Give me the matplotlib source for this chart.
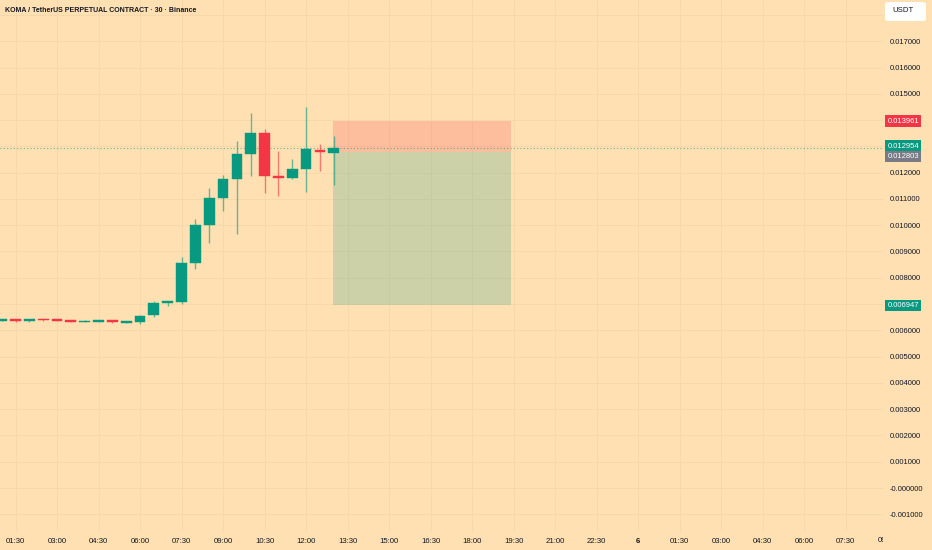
import numpy as np
import matplotlib.pyplot as plt
from matplotlib.transforms import Bbox, TransformedBbox, blended_transform_factory
from matplotlib.patches import FancyBboxPatch

# 30 min candles, 01:00 .. 13:00 (prices in units of 0.001 USDT)
opens = [6.37, 6.43, 6.37, 6.43, 6.39, 6.38, 6.31, 6.33, 6.39, 6.29, 6.32, 6.57, 7.03,
         7.08, 8.55, 10.00, 11.04, 11.75, 12.71, 13.52, 11.86, 11.78, 12.14, 12.87, 12.76]
highs = [6.44, 6.44, 6.44, 6.44, 6.40, 6.39, 6.40, 6.39, 6.40, 6.35, 6.58, 7.13, 7.13,
         8.80, 10.22, 11.42, 11.91, 13.20, 14.28, 13.66, 12.83, 12.51, 14.51, 13.10, 13.41]
lows = [6.35, 6.33, 6.31, 6.37, 6.35, 6.30, 6.30, 6.32, 6.29, 6.28, 6.25, 6.52, 6.94,
        7.00, 8.32, 9.33, 10.53, 9.67, 11.86, 11.21, 11.12, 11.76, 11.25, 12.05, 11.54]
closes = [6.42, 6.37, 6.43, 6.39, 6.36, 6.32, 6.37, 6.38, 6.30, 6.33, 6.56, 7.03, 7.10,
          8.57, 10.00, 11.04, 11.75, 12.72, 13.52, 11.86, 11.80, 12.14, 12.89, 12.77, 12.954]

time_labels = ["01:30", "03:00", "04:30", "06:00", "07:30", "09:00", "10:30", "12:00",
               "13:30", "15:00", "16:30", "18:00", "19:30", "21:00", "22:30", "6",
               "01:30", "03:00", "04:30", "06:00", "07:30", "09:00"]
price_ticks = [-0.001, 0.0, 0.001, 0.002, 0.003, 0.004, 0.005, 0.006, 0.008, 0.009,
               0.010, 0.011, 0.012, 0.015, 0.016, 0.017]
price_labels = ["-0.001000", "-0.000000", "0.001000", "0.002000", "0.003000", "0.004000",
                "0.005000", "0.006000", "0.008000", "0.009000", "0.010000", "0.011000",
                "0.012000", "0.015000", "0.016000", "0.017000"]

entry = 0.012803
stop = 0.013961
target = 0.006947
last_price = 0.012954

BG = "#FFE0B2"
GRID = "#F6D8AA"
UP = "#089981"
DOWN = "#F23645"
TXT = "#131722"

fig = plt.figure(figsize=(9.32, 5.5), dpi=100, facecolor=BG)
ax = fig.add_axes([0, 18 / 550, 883 / 932, 532 / 550])
ax.set_facecolor(BG)
for s in ax.spines.values():
    s.set_visible(False)

o = np.array(opens) / 1000
h = np.array(highs) / 1000
l = np.array(lows) / 1000
c = np.array(closes) / 1000
x = np.arange(len(o))
cols = [UP if cc >= oo else DOWN for oo, cc in zip(o, c)]

# grid
for v in np.arange(-0.001, 0.0185, 0.001):
    ax.axhline(v, color=GRID, lw=0.7, zorder=0)
tick_pos = np.arange(1, 1 + 3 * len(time_labels), 3)
for k in tick_pos:
    ax.axvline(k, color=GRID, lw=0.7, zorder=0)

# candles
ax.vlines(x, l, h, colors=cols, lw=1.0, alpha=0.6, zorder=2)
body = np.maximum(np.abs(c - o), 0.00006)
ax.bar(x, body, bottom=np.minimum(o, c), width=0.78, color=cols, edgecolor=cols, lw=0.3, zorder=3)

# short position tool
x0, x1 = 23.95, 36.8
ax.fill_between([x0, x1], entry, stop, color=DOWN, alpha=0.2, lw=0, zorder=1)
ax.fill_between([x0, x1], target, entry, color=UP, alpha=0.2, lw=0, zorder=1)

# last price line
ax.axhline(last_price, color=UP, lw=0.8, ls=(0, (1, 2)), alpha=0.6, zorder=1)

ax.set_xlim(-0.123, 63.7)
ax.set_ylim(-0.001674, 0.01857)

ax.set_xticks(tick_pos[:-1], time_labels[:-1])
ax.yaxis.tick_right()
ax.set_yticks(price_ticks, price_labels)
ax.tick_params(axis="y", length=0, pad=5, labelsize=5.5, labelcolor=TXT)
ax.tick_params(axis="x", length=0, pad=4, labelsize=5.6, labelcolor=TXT)
for lab in ax.get_xticklabels():
    lab.set_fontfamily("Liberation Sans")
    if lab.get_text() == "6":
        lab.set_fontweight("bold")
for lab in ax.get_yticklabels():
    lab.set_fontfamily("Liberation Sans")

# last, partly hidden time label
t = fig.text(tick_pos[-1], 9 / 550, time_labels[-1], ha="center", va="center",
             fontsize=5.6, color=TXT, family="Liberation Sans",
             transform=blended_transform_factory(ax.transData, fig.transFigure))
t.set_clip_box(TransformedBbox(Bbox([[0, 0], [883 / 932, 1]]), fig.transFigure))
t.set_clip_on(True)

# price boxes on the scale
for val, dy, fc in [(stop, 0, DOWN), (last_price, 1.5, UP), (entry, -5, "#787B86"), (target, 0, UP)]:
    ax.annotate(f"{val:.6f}", xy=(1, val), xycoords=("axes fraction", "data"),
                xytext=(4.5, dy), textcoords="offset pixels", ha="left", va="center",
                fontsize=5.5, color="white", family="Liberation Sans",
                bbox=dict(boxstyle="square,pad=0.3", fc=fc, ec="none"), annotation_clip=False)

# title and currency box
fig.text(5 / 932, 1 - 10 / 550, "KOMA / TetherUS PERPETUAL CONTRACT · 30 · Binance",
         fontsize=5.0, fontweight="bold", color=TXT, family="Liberation Sans", va="center")
fig.patches.append(FancyBboxPatch((885 / 932, 1 - 21 / 550), 41 / 932, 19 / 550,
                                  boxstyle="round,pad=0,rounding_size=0.004",
                                  transform=fig.transFigure, fc="white", ec="none"))
fig.text(892 / 932, 1 - 11 / 550, "USDT", fontsize=5.6, color=TXT,
         family="Liberation Sans", va="center")

fig.savefig("out.png", dpi=100, facecolor=BG)
